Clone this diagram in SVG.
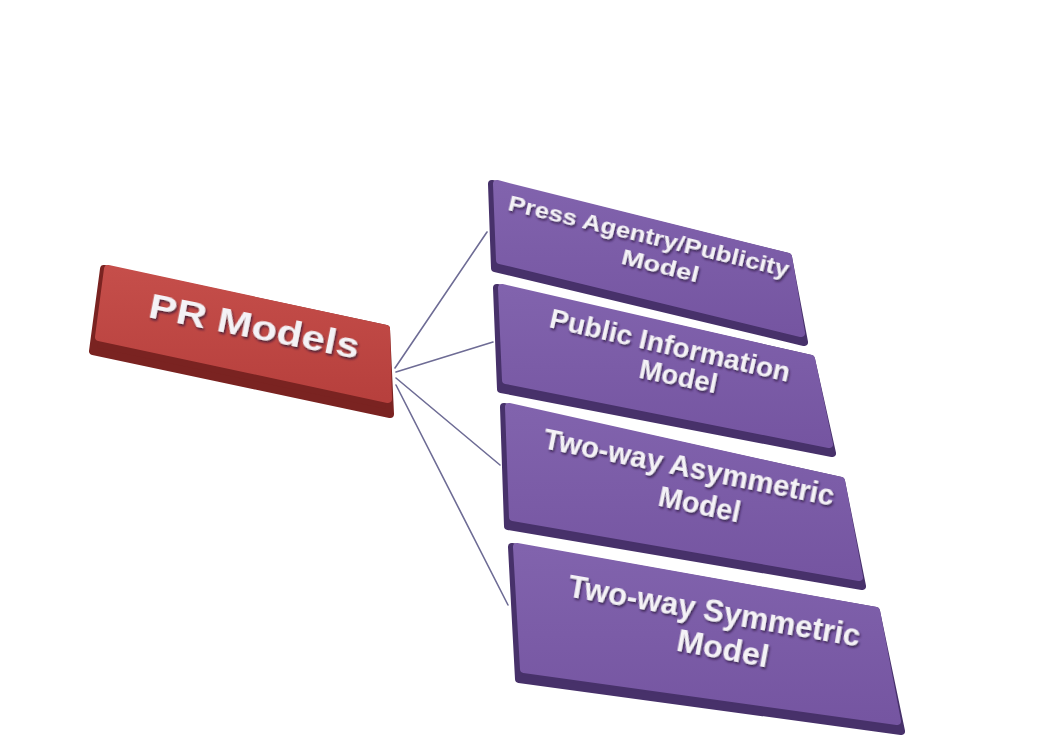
<svg xmlns="http://www.w3.org/2000/svg" width="1050" height="742" viewBox="0 0 1050 742">
  <defs>
    <linearGradient id="purFace" x1="0" y1="0" x2="0" y2="1">
      <stop offset="0" stop-color="#8163ad"/>
      <stop offset="1" stop-color="#7555a1"/>
    </linearGradient>
    <linearGradient id="redFace" x1="0" y1="0" x2="0" y2="1">
      <stop offset="0" stop-color="#c54e4a"/>
      <stop offset="1" stop-color="#b7403d"/>
    </linearGradient>
    <style>
      .red-side { fill: #7a2321; stroke: #7a2321; stroke-width: 8; stroke-linejoin: round; }
      .red-face { fill: url(#redFace); stroke: url(#redFace); stroke-width: 8; stroke-linejoin: round; }
      .pur-side { fill: #47316a; stroke: #47316a; stroke-width: 8; stroke-linejoin: round; }
      .pur-face { fill: url(#purFace); stroke: url(#purFace); stroke-width: 8; stroke-linejoin: round; }
      .link { fill: none; stroke: #6e6c95; stroke-width: 1.6; stroke-linecap: round; }
      .lbl { font-family: "Liberation Sans", Arial, sans-serif; font-weight: bold; fill: #f4f2f6; filter: url(#txtShadow); }
    </style>
    <filter id="txtShadow" x="-10%" y="-30%" width="120%" height="160%">
      <feDropShadow dx="1.5" dy="1.8" stdDeviation="0.9" flood-color="#221430" flood-opacity="0.75"/>
    </filter>
  </defs>

  <rect width="1050" height="742" fill="#ffffff"/>

  <!-- connectors fanning out from the root -->
  <g id="connectors">
    <line class="link" x1="395" y1="368" x2="487" y2="232"/>
    <line class="link" x1="396" y1="372" x2="493" y2="342"/>
    <line class="link" x1="396" y1="378" x2="500" y2="465"/>
    <line class="link" x1="396" y1="385" x2="508" y2="605"/>
  </g>

  <!-- root -->
  <g id="pr-models">
    <path class="red-side" d="M104,269 L386,329 L390,414 L93,351 Z"/>
    <path class="red-face" d="M108,269 L386,329 L388,399 L99,337 Z"/>
    <text class="lbl" font-size="35" transform="translate(252,338) rotate(11.3)" x="-107" y="0" textLength="214" lengthAdjust="spacingAndGlyphs">PR Models</text>
  </g>

  <g id="press-agentry">
    <path class="pur-side" d="M492,184 L788,257 L804,342 L495,268 Z"/>
    <path class="pur-face" d="M497,184 L788,257 L801,333 L500,260 Z"/>
    <text class="lbl" font-size="22" transform="translate(647,243.5) rotate(13.5)" x="-144" y="0" textLength="288" lengthAdjust="spacingAndGlyphs">Press Agentry/Publicity</text>
    <text class="lbl" font-size="22" transform="translate(658.5,273) rotate(13.9)" x="-39.5" y="0" textLength="79" lengthAdjust="spacingAndGlyphs">Model</text>
  </g>

  <g id="public-information">
    <path class="pur-side" d="M497,288 L811,359 L832,453 L501,389 Z"/>
    <path class="pur-face" d="M502,288 L811,359 L829,444 L506,380 Z"/>
    <text class="lbl" font-size="27" transform="translate(668,354.5) rotate(12.9)" x="-123" y="0" textLength="246" lengthAdjust="spacingAndGlyphs">Public Information</text>
    <text class="lbl" font-size="28" transform="translate(676.5,385.5) rotate(11.5)" x="-39.5" y="0" textLength="79" lengthAdjust="spacingAndGlyphs">Model</text>
  </g>

  <g id="two-way-asymmetric">
    <path class="pur-side" d="M504,407 L841,481 L862,586 L508,526 Z"/>
    <path class="pur-face" d="M509,407 L841,481 L859,577 L513,517 Z"/>
    <text class="lbl" font-size="30" transform="translate(687,477) rotate(11.3)" x="-148" y="0" textLength="296" lengthAdjust="spacingAndGlyphs">Two-way Asymmetric</text>
    <text class="lbl" font-size="30" transform="translate(697.5,514) rotate(11.9)" x="-41.5" y="0" textLength="83" lengthAdjust="spacingAndGlyphs">Model</text>
  </g>

  <g id="two-way-symmetric">
    <path class="pur-side" d="M512,547 L876,611 L901,731 L519,679 Z"/>
    <path class="pur-face" d="M517,547 L876,611 L897,721 L524,669 Z"/>
    <text class="lbl" font-size="32" transform="translate(712.5,621.5) rotate(9.8)" x="-148" y="0" textLength="296" lengthAdjust="spacingAndGlyphs">Two-way Symmetric</text>
    <text class="lbl" font-size="32" transform="translate(721,659) rotate(10.6)" x="-46.5" y="0" textLength="93" lengthAdjust="spacingAndGlyphs">Model</text>
  </g>
</svg>
